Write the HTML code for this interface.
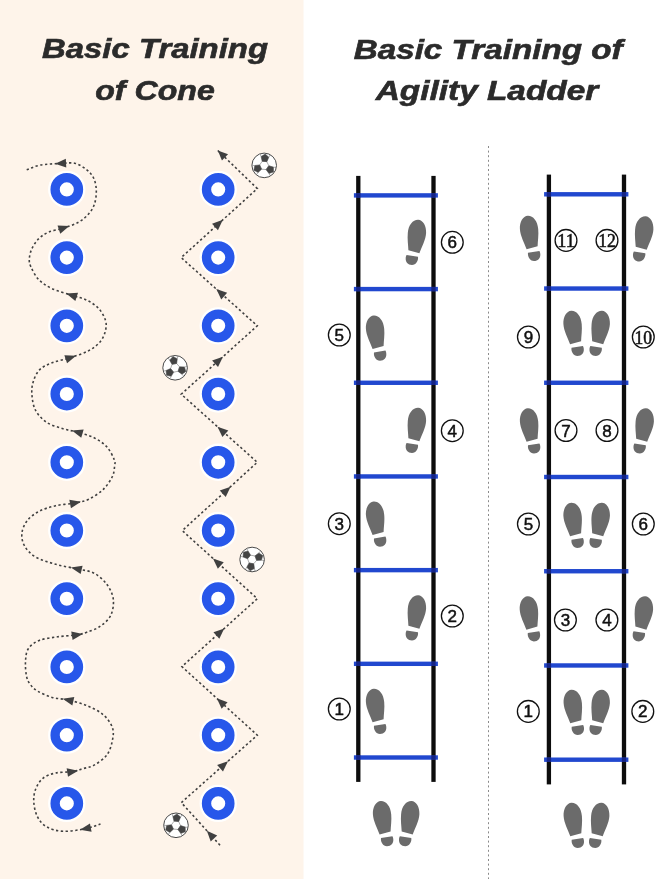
<!DOCTYPE html>
<html><head><meta charset="utf-8"><style>
html,body{margin:0;padding:0;background:#fff;width:656px;height:879px;overflow:hidden;}
svg{display:block;} svg{will-change:transform;}
</style></head><body>
<svg width="656" height="879" viewBox="0 0 656 879">
<defs><g id="foot" fill="#6b6b6b"><path d="M2.2,-22.2 C7,-22 10.5,-16 10.1,-9 C9.8,-2 5.5,5 3.4,11.3 L-7.6,8.2 C-7.8,3 -8.8,-3 -8.2,-9 C-7.6,-17 -3,-22.4 2.2,-22.2 Z"/><path d="M-9.4,12.9 L2,14.7 C2.6,18.5 0,23 -4,23 C-8.2,23 -10.6,19.8 -10.3,16 C-10.2,14.5 -9.8,13.5 -9.4,12.9 Z"/></g></defs>
<rect x="0" y="0" width="656" height="879" fill="#fff"/>
<rect x="0" y="0" width="303.5" height="879" fill="#fef4ea"/>
<text x="42.0" y="57.9" font-family="Liberation Sans" font-weight="bold" font-style="italic" font-size="27" fill="#2b2b2b" stroke="#2b2b2b" stroke-width="0.6" textLength="226.0" lengthAdjust="spacingAndGlyphs">Basic Training</text>
<text x="95.2" y="99.9" font-family="Liberation Sans" font-weight="bold" font-style="italic" font-size="27" fill="#2b2b2b" stroke="#2b2b2b" stroke-width="0.6" textLength="119.6" lengthAdjust="spacingAndGlyphs">of Cone</text>
<text x="353.7" y="58.5" font-family="Liberation Sans" font-weight="bold" font-style="italic" font-size="27" fill="#2b2b2b" stroke="#2b2b2b" stroke-width="0.6" textLength="268.9" lengthAdjust="spacingAndGlyphs">Basic Training of</text>
<text x="375.7" y="100.1" font-family="Liberation Sans" font-weight="bold" font-style="italic" font-size="27" fill="#2b2b2b" stroke="#2b2b2b" stroke-width="0.6" textLength="222.6" lengthAdjust="spacingAndGlyphs">Agility Ladder</text>
<circle cx="66.8" cy="189.4" r="18.7" fill="#fff" opacity="0.95"/>
<circle cx="66.8" cy="189.4" r="11.7" fill="#fff" stroke="#2757ea" stroke-width="9.3"/>
<circle cx="66.8" cy="257.62" r="18.7" fill="#fff" opacity="0.95"/>
<circle cx="66.8" cy="257.62" r="11.7" fill="#fff" stroke="#2757ea" stroke-width="9.3"/>
<circle cx="66.8" cy="325.84000000000003" r="18.7" fill="#fff" opacity="0.95"/>
<circle cx="66.8" cy="325.84000000000003" r="11.7" fill="#fff" stroke="#2757ea" stroke-width="9.3"/>
<circle cx="66.8" cy="394.06" r="18.7" fill="#fff" opacity="0.95"/>
<circle cx="66.8" cy="394.06" r="11.7" fill="#fff" stroke="#2757ea" stroke-width="9.3"/>
<circle cx="66.8" cy="462.28" r="18.7" fill="#fff" opacity="0.95"/>
<circle cx="66.8" cy="462.28" r="11.7" fill="#fff" stroke="#2757ea" stroke-width="9.3"/>
<circle cx="66.8" cy="530.5" r="18.7" fill="#fff" opacity="0.95"/>
<circle cx="66.8" cy="530.5" r="11.7" fill="#fff" stroke="#2757ea" stroke-width="9.3"/>
<circle cx="66.8" cy="598.72" r="18.7" fill="#fff" opacity="0.95"/>
<circle cx="66.8" cy="598.72" r="11.7" fill="#fff" stroke="#2757ea" stroke-width="9.3"/>
<circle cx="66.8" cy="666.9399999999999" r="18.7" fill="#fff" opacity="0.95"/>
<circle cx="66.8" cy="666.9399999999999" r="11.7" fill="#fff" stroke="#2757ea" stroke-width="9.3"/>
<circle cx="66.8" cy="735.16" r="18.7" fill="#fff" opacity="0.95"/>
<circle cx="66.8" cy="735.16" r="11.7" fill="#fff" stroke="#2757ea" stroke-width="9.3"/>
<circle cx="66.8" cy="803.38" r="18.7" fill="#fff" opacity="0.95"/>
<circle cx="66.8" cy="803.38" r="11.7" fill="#fff" stroke="#2757ea" stroke-width="9.3"/>
<circle cx="218.2" cy="189.4" r="18.7" fill="#fff" opacity="0.95"/>
<circle cx="218.2" cy="189.4" r="11.7" fill="#fff" stroke="#2757ea" stroke-width="9.3"/>
<circle cx="218.2" cy="257.62" r="18.7" fill="#fff" opacity="0.95"/>
<circle cx="218.2" cy="257.62" r="11.7" fill="#fff" stroke="#2757ea" stroke-width="9.3"/>
<circle cx="218.2" cy="325.84000000000003" r="18.7" fill="#fff" opacity="0.95"/>
<circle cx="218.2" cy="325.84000000000003" r="11.7" fill="#fff" stroke="#2757ea" stroke-width="9.3"/>
<circle cx="218.2" cy="394.06" r="18.7" fill="#fff" opacity="0.95"/>
<circle cx="218.2" cy="394.06" r="11.7" fill="#fff" stroke="#2757ea" stroke-width="9.3"/>
<circle cx="218.2" cy="462.28" r="18.7" fill="#fff" opacity="0.95"/>
<circle cx="218.2" cy="462.28" r="11.7" fill="#fff" stroke="#2757ea" stroke-width="9.3"/>
<circle cx="218.2" cy="530.5" r="18.7" fill="#fff" opacity="0.95"/>
<circle cx="218.2" cy="530.5" r="11.7" fill="#fff" stroke="#2757ea" stroke-width="9.3"/>
<circle cx="218.2" cy="598.72" r="18.7" fill="#fff" opacity="0.95"/>
<circle cx="218.2" cy="598.72" r="11.7" fill="#fff" stroke="#2757ea" stroke-width="9.3"/>
<circle cx="218.2" cy="666.9399999999999" r="18.7" fill="#fff" opacity="0.95"/>
<circle cx="218.2" cy="666.9399999999999" r="11.7" fill="#fff" stroke="#2757ea" stroke-width="9.3"/>
<circle cx="218.2" cy="735.16" r="18.7" fill="#fff" opacity="0.95"/>
<circle cx="218.2" cy="735.16" r="11.7" fill="#fff" stroke="#2757ea" stroke-width="9.3"/>
<circle cx="218.2" cy="803.38" r="18.7" fill="#fff" opacity="0.95"/>
<circle cx="218.2" cy="803.38" r="11.7" fill="#fff" stroke="#2757ea" stroke-width="9.3"/>
<path d="M26.70,169.80 C28.95,169.02 34.47,166.17 40.20,165.10 C45.93,164.03 55.23,163.68 61.10,163.40 C66.97,163.12 71.07,162.28 75.40,163.40 C79.73,164.52 84.03,167.58 87.10,170.10 C90.17,172.62 92.27,175.15 93.80,178.50 C95.33,181.85 96.17,186.00 96.30,190.20 C96.43,194.40 95.85,199.78 94.60,203.70 C93.35,207.62 91.45,210.63 88.80,213.70 C86.15,216.77 82.90,219.72 78.70,222.10 C74.50,224.48 68.63,226.32 63.60,228.00 C58.57,229.68 52.68,230.38 48.50,232.20 C44.32,234.02 41.28,236.12 38.50,238.90 C35.72,241.68 33.33,245.55 31.80,248.90 C30.27,252.25 29.45,256.02 29.30,259.00 C29.15,261.98 29.37,263.42 30.90,266.80 C32.43,270.18 35.00,275.67 38.50,279.30 C42.00,282.93 46.32,285.93 51.90,288.60 C57.48,291.27 66.13,293.35 72.00,295.30 C77.87,297.25 82.63,298.07 87.10,300.30 C91.57,302.53 95.73,305.35 98.80,308.70 C101.87,312.05 104.38,316.77 105.50,320.40 C106.62,324.03 106.33,327.00 105.50,330.50 C104.67,334.00 103.28,338.05 100.50,341.40 C97.72,344.75 93.82,347.88 88.80,350.60 C83.78,353.32 76.52,355.67 70.40,357.70 C64.28,359.73 57.28,360.73 52.10,362.80 C46.92,364.87 42.50,366.75 39.30,370.10 C36.10,373.45 34.12,378.63 32.90,382.90 C31.68,387.17 31.55,391.12 32.00,395.70 C32.45,400.28 33.17,405.97 35.60,410.40 C38.03,414.83 42.03,419.25 46.60,422.30 C51.17,425.35 57.82,427.03 63.00,428.70 C68.18,430.37 72.52,430.78 77.70,432.30 C82.88,433.82 89.22,435.35 94.10,437.80 C98.98,440.25 103.63,443.33 107.00,447.00 C110.37,450.67 113.03,456.63 114.30,459.80 C115.57,462.97 114.92,463.22 114.60,466.00 C114.28,468.78 114.28,472.62 112.40,476.50 C110.52,480.38 107.25,485.50 103.30,489.30 C99.35,493.10 93.42,497.02 88.70,499.30 C83.98,501.58 80.50,501.93 75.00,503.00 C69.50,504.07 61.65,504.33 55.70,505.70 C49.75,507.07 44.02,508.75 39.30,511.20 C34.58,513.65 30.30,516.73 27.40,520.40 C24.50,524.07 22.37,528.93 21.90,533.20 C21.43,537.47 22.32,542.03 24.60,546.00 C26.88,549.97 30.42,553.95 35.60,557.00 C40.78,560.05 48.83,562.33 55.70,564.30 C62.57,566.27 70.40,567.32 76.80,568.80 C83.20,570.28 89.07,570.57 94.10,573.20 C99.13,575.83 103.80,580.25 107.00,584.60 C110.20,588.95 112.70,594.12 113.30,599.30 C113.90,604.48 112.88,611.13 110.60,615.70 C108.32,620.27 103.57,623.95 99.60,626.70 C95.63,629.45 90.60,630.83 86.80,632.20 C83.00,633.57 81.67,634.13 76.80,634.90 C71.93,635.67 63.85,635.88 57.60,636.80 C51.35,637.72 44.18,638.42 39.30,640.40 C34.42,642.38 30.60,645.18 28.30,648.70 C26.00,652.22 25.80,656.93 25.50,661.50 C25.20,666.07 25.75,672.35 26.50,676.10 C27.25,679.85 28.18,681.52 30.00,684.00 C31.82,686.48 33.72,688.77 37.40,691.00 C41.08,693.23 46.92,695.88 52.10,697.40 C57.28,698.92 62.72,698.73 68.50,700.10 C74.28,701.47 81.00,703.15 86.80,705.60 C92.60,708.05 99.03,711.13 103.30,714.80 C107.57,718.47 110.88,723.33 112.40,727.60 C113.92,731.87 113.32,735.83 112.40,740.40 C111.48,744.97 109.95,750.88 106.90,755.00 C103.85,759.12 98.05,762.83 94.10,765.10 C90.15,767.37 86.85,767.52 83.20,768.60 C79.55,769.68 76.78,770.87 72.20,771.60 C67.62,772.33 60.58,771.88 55.70,773.00 C50.82,774.12 46.25,775.58 42.90,778.30 C39.55,781.02 37.12,785.33 35.60,789.30 C34.08,793.27 33.50,797.53 33.80,802.10 C34.10,806.67 35.27,812.58 37.40,816.70 C39.53,820.82 42.33,824.37 46.60,826.80 C50.87,829.23 56.45,831.00 63.00,831.30 C69.55,831.60 79.65,829.82 85.90,828.60 C92.15,827.38 98.07,824.77 100.50,824.00" fill="none" stroke="#404040" stroke-width="1.6" stroke-dasharray="2.3 2.5"/>
<path d="M55.06,163.69 L65.84,158.87 L66.25,167.46 Z" fill="#404040"/>
<path d="M69.34,226.08 L60.27,233.65 L57.54,225.49 Z" fill="#404040"/>
<path d="M66.26,293.39 L78.05,292.78 L75.34,300.94 Z" fill="#404040"/>
<path d="M76.14,355.79 L67.06,363.34 L64.35,355.18 Z" fill="#404040"/>
<path d="M71.89,430.60 L83.66,429.56 L81.24,437.82 Z" fill="#404040"/>
<path d="M80.94,501.85 L70.96,508.16 L69.32,499.72 Z" fill="#404040"/>
<path d="M70.91,567.43 L82.59,565.73 L80.65,574.11 Z" fill="#404040"/>
<path d="M82.78,633.96 L72.58,639.92 L71.24,631.42 Z" fill="#404040"/>
<path d="M62.61,698.71 L74.31,697.05 L72.33,705.42 Z" fill="#404040"/>
<path d="M78.17,770.64 L67.99,776.63 L66.63,768.14 Z" fill="#404040"/>
<path d="M79.96,829.76 L89.94,823.43 L91.58,831.87 Z" fill="#404040"/>
<path d="M217.8,150.5 L257.3,188.6 L181.2,257.6 L257.3,325.8 L181.2,394.2 L257.3,462.3 L182.3,530.6 L257.3,598.7 L181.9,666.6 L257.3,735.2 L181.3,802.6 L220.4,845.6" fill="none" stroke="#404040" stroke-width="1.6" stroke-dasharray="2.3 2.5"/>
<path d="M217.80,150.50 L228.05,154.28 L221.94,160.61 Z" fill="#404040"/>
<path d="M222.85,219.84 L217.95,230.22 L212.04,223.70 Z" fill="#404040"/>
<path d="M216.31,289.06 L227.14,292.86 L221.26,299.41 Z" fill="#404040"/>
<path d="M222.97,356.66 L218.03,367.02 L212.14,360.47 Z" fill="#404040"/>
<path d="M217.48,426.67 L228.31,430.46 L222.44,437.01 Z" fill="#404040"/>
<path d="M230.58,486.63 L225.71,497.02 L219.78,490.52 Z" fill="#404040"/>
<path d="M212.96,558.44 L223.76,562.31 L217.85,568.82 Z" fill="#404040"/>
<path d="M224.26,628.45 L219.33,638.82 L213.44,632.28 Z" fill="#404040"/>
<path d="M216.78,698.33 L227.58,702.21 L221.66,708.72 Z" fill="#404040"/>
<path d="M228.00,761.18 L222.99,771.51 L217.15,764.92 Z" fill="#404040"/>
<path d="M206.83,830.68 L217.22,835.56 L210.71,841.48 Z" fill="#404040"/>
<g transform="translate(264.2,165.4)">
<circle r="12.3" fill="#fff" stroke="#4a4a4a" stroke-width="1"/>
<path d="M1.94,4.17 L-2.64,3.77 L-4.58,-0.40 L-1.94,-4.17 L2.64,-3.77 L4.58,0.40 Z" fill="none" stroke="#777" stroke-width="0.6"/>
<path d="M4.65,0.31 L9.25,1.72 L9.34,6.54 L4.78,8.11 L1.88,4.26 Z" fill="#444" stroke="#444" stroke-width="0.5"/>
<line x1="9.25" y1="1.72" x2="11.80" y2="2.19" stroke="#777" stroke-width="0.6"/>
<line x1="9.34" y1="6.54" x2="9.83" y2="6.88" stroke="#777" stroke-width="0.6"/>
<line x1="4.78" y1="8.11" x2="6.10" y2="10.34" stroke="#777" stroke-width="0.6"/>
<path d="M-2.59,3.87 L-6.12,7.15 L-10.33,4.82 L-9.41,0.09 L-4.63,-0.50 Z" fill="#444" stroke="#444" stroke-width="0.5"/>
<line x1="-6.12" y1="7.15" x2="-7.80" y2="9.12" stroke="#777" stroke-width="0.6"/>
<line x1="-10.33" y1="4.82" x2="-10.88" y2="5.07" stroke="#777" stroke-width="0.6"/>
<line x1="-9.41" y1="0.09" x2="-12.00" y2="0.11" stroke="#777" stroke-width="0.6"/>
<path d="M-2.05,-4.18 L-3.14,-8.87 L0.99,-11.36 L4.63,-8.20 L2.75,-3.76 Z" fill="#444" stroke="#444" stroke-width="0.5"/>
<line x1="-3.14" y1="-8.87" x2="-4.00" y2="-11.31" stroke="#777" stroke-width="0.6"/>
<line x1="0.99" y1="-11.36" x2="1.05" y2="-11.95" stroke="#777" stroke-width="0.6"/>
<line x1="4.63" y1="-8.20" x2="5.90" y2="-10.45" stroke="#777" stroke-width="0.6"/>
</g>
<g transform="translate(175.1,367.8)">
<circle r="12.3" fill="#fff" stroke="#4a4a4a" stroke-width="1"/>
<path d="M3.02,3.47 L-1.50,4.35 L-4.52,0.88 L-3.02,-3.47 L1.50,-4.35 L4.52,-0.88 Z" fill="none" stroke="#777" stroke-width="0.6"/>
<path d="M4.55,-0.98 L9.37,-0.90 L10.78,3.71 L6.83,6.48 L2.98,3.58 Z" fill="#444" stroke="#444" stroke-width="0.5"/>
<line x1="9.37" y1="-0.90" x2="11.95" y2="-1.14" stroke="#777" stroke-width="0.6"/>
<line x1="10.78" y1="3.71" x2="11.35" y2="3.91" stroke="#777" stroke-width="0.6"/>
<line x1="6.83" y1="6.48" x2="8.71" y2="8.26" stroke="#777" stroke-width="0.6"/>
<path d="M-1.43,4.43 L-3.91,8.56 L-8.60,7.48 L-9.02,2.68 L-4.59,0.79 Z" fill="#444" stroke="#444" stroke-width="0.5"/>
<line x1="-3.91" y1="8.56" x2="-4.98" y2="10.92" stroke="#777" stroke-width="0.6"/>
<line x1="-8.60" y1="7.48" x2="-9.06" y2="7.87" stroke="#777" stroke-width="0.6"/>
<line x1="-9.02" y1="2.68" x2="-11.50" y2="3.41" stroke="#777" stroke-width="0.6"/>
<path d="M-3.13,-3.45 L-5.46,-7.67 L-2.18,-11.19 L2.19,-9.15 L1.61,-4.37 Z" fill="#444" stroke="#444" stroke-width="0.5"/>
<line x1="-5.46" y1="-7.67" x2="-6.96" y2="-9.77" stroke="#777" stroke-width="0.6"/>
<line x1="-2.18" y1="-11.19" x2="-2.29" y2="-11.78" stroke="#777" stroke-width="0.6"/>
<line x1="2.19" y1="-9.15" x2="2.80" y2="-11.67" stroke="#777" stroke-width="0.6"/>
</g>
<g transform="translate(252.1,559.5)">
<circle r="12.3" fill="#fff" stroke="#4a4a4a" stroke-width="1"/>
<path d="M4.53,0.80 L1.57,4.32 L-2.96,3.52 L-4.53,-0.80 L-1.57,-4.32 L2.96,-3.52 Z" fill="none" stroke="#777" stroke-width="0.6"/>
<path d="M2.92,-3.63 L6.72,-6.59 L10.71,-3.90 L9.38,0.73 L4.57,0.90 Z" fill="#444" stroke="#444" stroke-width="0.5"/>
<line x1="6.72" y1="-6.59" x2="8.56" y2="-8.41" stroke="#777" stroke-width="0.6"/>
<line x1="10.71" y1="-3.90" x2="11.28" y2="-4.10" stroke="#777" stroke-width="0.6"/>
<line x1="9.38" y1="0.73" x2="11.96" y2="0.94" stroke="#777" stroke-width="0.6"/>
<path d="M1.68,4.34 L2.35,9.11 L-1.98,11.23 L-5.33,7.76 L-3.07,3.50 Z" fill="#444" stroke="#444" stroke-width="0.5"/>
<line x1="2.35" y1="9.11" x2="3.00" y2="11.62" stroke="#777" stroke-width="0.6"/>
<line x1="-1.98" y1="11.23" x2="-2.08" y2="11.82" stroke="#777" stroke-width="0.6"/>
<line x1="-5.33" y1="7.76" x2="-6.79" y2="9.89" stroke="#777" stroke-width="0.6"/>
<path d="M-4.60,-0.71 L-9.07,-2.52 L-8.73,-7.33 L-4.06,-8.49 L-1.50,-4.41 Z" fill="#444" stroke="#444" stroke-width="0.5"/>
<line x1="-9.07" y1="-2.52" x2="-11.56" y2="-3.21" stroke="#777" stroke-width="0.6"/>
<line x1="-8.73" y1="-7.33" x2="-9.19" y2="-7.71" stroke="#777" stroke-width="0.6"/>
<line x1="-4.06" y1="-8.49" x2="-5.17" y2="-10.83" stroke="#777" stroke-width="0.6"/>
</g>
<g transform="translate(176,825.3)">
<circle r="12.3" fill="#fff" stroke="#4a4a4a" stroke-width="1"/>
<path d="M1.94,4.17 L-2.64,3.77 L-4.58,-0.40 L-1.94,-4.17 L2.64,-3.77 L4.58,0.40 Z" fill="none" stroke="#777" stroke-width="0.6"/>
<path d="M4.65,0.31 L9.25,1.72 L9.34,6.54 L4.78,8.11 L1.88,4.26 Z" fill="#444" stroke="#444" stroke-width="0.5"/>
<line x1="9.25" y1="1.72" x2="11.80" y2="2.19" stroke="#777" stroke-width="0.6"/>
<line x1="9.34" y1="6.54" x2="9.83" y2="6.88" stroke="#777" stroke-width="0.6"/>
<line x1="4.78" y1="8.11" x2="6.10" y2="10.34" stroke="#777" stroke-width="0.6"/>
<path d="M-2.59,3.87 L-6.12,7.15 L-10.33,4.82 L-9.41,0.09 L-4.63,-0.50 Z" fill="#444" stroke="#444" stroke-width="0.5"/>
<line x1="-6.12" y1="7.15" x2="-7.80" y2="9.12" stroke="#777" stroke-width="0.6"/>
<line x1="-10.33" y1="4.82" x2="-10.88" y2="5.07" stroke="#777" stroke-width="0.6"/>
<line x1="-9.41" y1="0.09" x2="-12.00" y2="0.11" stroke="#777" stroke-width="0.6"/>
<path d="M-2.05,-4.18 L-3.14,-8.87 L0.99,-11.36 L4.63,-8.20 L2.75,-3.76 Z" fill="#444" stroke="#444" stroke-width="0.5"/>
<line x1="-3.14" y1="-8.87" x2="-4.00" y2="-11.31" stroke="#777" stroke-width="0.6"/>
<line x1="0.99" y1="-11.36" x2="1.05" y2="-11.95" stroke="#777" stroke-width="0.6"/>
<line x1="4.63" y1="-8.20" x2="5.90" y2="-10.45" stroke="#777" stroke-width="0.6"/>
</g>
<line x1="488.5" y1="146" x2="488.5" y2="879" stroke="#8a8a8a" stroke-width="1" stroke-dasharray="2 2.6"/>
<rect x="356.15000000000003" y="175.9" width="4.3" height="606.0" fill="#0d0d0d"/>
<rect x="431.35" y="175.9" width="4.3" height="606.0" fill="#0d0d0d"/>
<rect x="353.9" y="193.20" width="84.00" height="4.4" fill="#2148cf"/>
<rect x="356.15000000000003" y="193.20" width="4.3" height="4.4" fill="#141c70" opacity="0.8"/>
<rect x="431.35" y="193.20" width="4.3" height="4.4" fill="#141c70" opacity="0.8"/>
<rect x="353.9" y="286.88" width="84.00" height="4.4" fill="#2148cf"/>
<rect x="356.15000000000003" y="286.88" width="4.3" height="4.4" fill="#141c70" opacity="0.8"/>
<rect x="431.35" y="286.88" width="4.3" height="4.4" fill="#141c70" opacity="0.8"/>
<rect x="353.9" y="380.57" width="84.00" height="4.4" fill="#2148cf"/>
<rect x="356.15000000000003" y="380.57" width="4.3" height="4.4" fill="#141c70" opacity="0.8"/>
<rect x="431.35" y="380.57" width="4.3" height="4.4" fill="#141c70" opacity="0.8"/>
<rect x="353.9" y="474.25" width="84.00" height="4.4" fill="#2148cf"/>
<rect x="356.15000000000003" y="474.25" width="4.3" height="4.4" fill="#141c70" opacity="0.8"/>
<rect x="431.35" y="474.25" width="4.3" height="4.4" fill="#141c70" opacity="0.8"/>
<rect x="353.9" y="567.93" width="84.00" height="4.4" fill="#2148cf"/>
<rect x="356.15000000000003" y="567.93" width="4.3" height="4.4" fill="#141c70" opacity="0.8"/>
<rect x="431.35" y="567.93" width="4.3" height="4.4" fill="#141c70" opacity="0.8"/>
<rect x="353.9" y="661.62" width="84.00" height="4.4" fill="#2148cf"/>
<rect x="356.15000000000003" y="661.62" width="4.3" height="4.4" fill="#141c70" opacity="0.8"/>
<rect x="431.35" y="661.62" width="4.3" height="4.4" fill="#141c70" opacity="0.8"/>
<rect x="353.9" y="755.30" width="84.00" height="4.4" fill="#2148cf"/>
<rect x="356.15000000000003" y="755.30" width="4.3" height="4.4" fill="#141c70" opacity="0.8"/>
<rect x="431.35" y="755.30" width="4.3" height="4.4" fill="#141c70" opacity="0.8"/>
<rect x="546.75" y="174.6" width="4.3" height="609.8" fill="#0d0d0d"/>
<rect x="621.85" y="174.6" width="4.3" height="609.8" fill="#0d0d0d"/>
<rect x="544.1" y="192.10" width="84.30" height="4.4" fill="#2148cf"/>
<rect x="546.75" y="192.10" width="4.3" height="4.4" fill="#141c70" opacity="0.8"/>
<rect x="621.85" y="192.10" width="4.3" height="4.4" fill="#141c70" opacity="0.8"/>
<rect x="544.1" y="286.33" width="84.30" height="4.4" fill="#2148cf"/>
<rect x="546.75" y="286.33" width="4.3" height="4.4" fill="#141c70" opacity="0.8"/>
<rect x="621.85" y="286.33" width="4.3" height="4.4" fill="#141c70" opacity="0.8"/>
<rect x="544.1" y="380.57" width="84.30" height="4.4" fill="#2148cf"/>
<rect x="546.75" y="380.57" width="4.3" height="4.4" fill="#141c70" opacity="0.8"/>
<rect x="621.85" y="380.57" width="4.3" height="4.4" fill="#141c70" opacity="0.8"/>
<rect x="544.1" y="474.80" width="84.30" height="4.4" fill="#2148cf"/>
<rect x="546.75" y="474.80" width="4.3" height="4.4" fill="#141c70" opacity="0.8"/>
<rect x="621.85" y="474.80" width="4.3" height="4.4" fill="#141c70" opacity="0.8"/>
<rect x="544.1" y="569.03" width="84.30" height="4.4" fill="#2148cf"/>
<rect x="546.75" y="569.03" width="4.3" height="4.4" fill="#141c70" opacity="0.8"/>
<rect x="621.85" y="569.03" width="4.3" height="4.4" fill="#141c70" opacity="0.8"/>
<rect x="544.1" y="663.27" width="84.30" height="4.4" fill="#2148cf"/>
<rect x="546.75" y="663.27" width="4.3" height="4.4" fill="#141c70" opacity="0.8"/>
<rect x="621.85" y="663.27" width="4.3" height="4.4" fill="#141c70" opacity="0.8"/>
<rect x="544.1" y="757.50" width="84.30" height="4.4" fill="#2148cf"/>
<rect x="546.75" y="757.50" width="4.3" height="4.4" fill="#141c70" opacity="0.8"/>
<rect x="621.85" y="757.50" width="4.3" height="4.4" fill="#141c70" opacity="0.8"/>
<use href="#foot" transform="translate(416,242) scale(1,1)"/>
<circle cx="452.3" cy="242.3" r="10.9" fill="none" stroke="#111" stroke-width="1.3"/>
<text x="452.3" y="248.3" font-family="Liberation Sans" font-size="17" fill="#111" stroke="#111" stroke-width="0.5" text-anchor="middle">6</text>
<use href="#foot" transform="translate(376,337.7) scale(-1,1)"/>
<circle cx="339.3" cy="335" r="10.9" fill="none" stroke="#111" stroke-width="1.3"/>
<text x="339.3" y="341" font-family="Liberation Sans" font-size="17" fill="#111" stroke="#111" stroke-width="0.5" text-anchor="middle">5</text>
<use href="#foot" transform="translate(416,430) scale(1,1)"/>
<circle cx="452.3" cy="430.7" r="10.9" fill="none" stroke="#111" stroke-width="1.3"/>
<text x="452.3" y="436.7" font-family="Liberation Sans" font-size="17" fill="#111" stroke="#111" stroke-width="0.5" text-anchor="middle">4</text>
<use href="#foot" transform="translate(376,523.7) scale(-1,1)"/>
<circle cx="339.3" cy="523.7" r="10.9" fill="none" stroke="#111" stroke-width="1.3"/>
<text x="339.3" y="529.7" font-family="Liberation Sans" font-size="17" fill="#111" stroke="#111" stroke-width="0.5" text-anchor="middle">3</text>
<use href="#foot" transform="translate(416,617.5) scale(1,1)"/>
<circle cx="452.3" cy="616" r="10.9" fill="none" stroke="#111" stroke-width="1.3"/>
<text x="452.3" y="622" font-family="Liberation Sans" font-size="17" fill="#111" stroke="#111" stroke-width="0.5" text-anchor="middle">2</text>
<use href="#foot" transform="translate(376,711) scale(-1,1)"/>
<circle cx="339.3" cy="709" r="10.9" fill="none" stroke="#111" stroke-width="1.3"/>
<text x="339.3" y="715" font-family="Liberation Sans" font-size="17" fill="#111" stroke="#111" stroke-width="0.5" text-anchor="middle">1</text>
<use href="#foot" transform="translate(383,823.3) scale(-1,1)"/>
<use href="#foot" transform="translate(409.3,823.3) scale(1,1)"/>
<use href="#foot" transform="translate(530,238) scale(-1,1)"/>
<use href="#foot" transform="translate(643.3,238.5) scale(1,1)"/>
<circle cx="566" cy="240.4" r="10.9" fill="none" stroke="#111" stroke-width="1.3"/>
<text x="557.20" y="247.00" font-family="Liberation Serif" font-size="18.5" fill="#111" stroke="#111" stroke-width="0.5" textLength="17.6" lengthAdjust="spacingAndGlyphs">11</text>
<circle cx="607" cy="240.4" r="10.9" fill="none" stroke="#111" stroke-width="1.3"/>
<text x="598.20" y="247.00" font-family="Liberation Serif" font-size="18.5" fill="#111" stroke="#111" stroke-width="0.5" textLength="17.6" lengthAdjust="spacingAndGlyphs">12</text>
<use href="#foot" transform="translate(573.5,333) scale(-1,1)"/>
<use href="#foot" transform="translate(599.8,333) scale(1,1)"/>
<circle cx="528.4" cy="337" r="10.9" fill="none" stroke="#111" stroke-width="1.3"/>
<text x="528.4" y="343" font-family="Liberation Sans" font-size="17" fill="#111" stroke="#111" stroke-width="0.5" text-anchor="middle">9</text>
<circle cx="643.3" cy="337" r="10.9" fill="none" stroke="#111" stroke-width="1.3"/>
<text x="634.50" y="343.60" font-family="Liberation Serif" font-size="18.5" fill="#111" stroke="#111" stroke-width="0.5" textLength="17.6" lengthAdjust="spacingAndGlyphs">10</text>
<use href="#foot" transform="translate(530,430.5) scale(-1,1)"/>
<use href="#foot" transform="translate(643.8,430.5) scale(1,1)"/>
<circle cx="566" cy="430.5" r="10.9" fill="none" stroke="#111" stroke-width="1.3"/>
<text x="566" y="436.5" font-family="Liberation Sans" font-size="17" fill="#111" stroke="#111" stroke-width="0.5" text-anchor="middle">7</text>
<circle cx="607" cy="430.5" r="10.9" fill="none" stroke="#111" stroke-width="1.3"/>
<text x="607" y="436.5" font-family="Liberation Sans" font-size="17" fill="#111" stroke="#111" stroke-width="0.5" text-anchor="middle">8</text>
<use href="#foot" transform="translate(573.5,525) scale(-1,1)"/>
<use href="#foot" transform="translate(599.8,525) scale(1,1)"/>
<circle cx="528.4" cy="524" r="10.9" fill="none" stroke="#111" stroke-width="1.3"/>
<text x="528.4" y="530" font-family="Liberation Sans" font-size="17" fill="#111" stroke="#111" stroke-width="0.5" text-anchor="middle">5</text>
<circle cx="643.3" cy="524" r="10.9" fill="none" stroke="#111" stroke-width="1.3"/>
<text x="643.3" y="530" font-family="Liberation Sans" font-size="17" fill="#111" stroke="#111" stroke-width="0.5" text-anchor="middle">6</text>
<use href="#foot" transform="translate(529.8,618.4) scale(-1,1)"/>
<use href="#foot" transform="translate(643,618.4) scale(1,1)"/>
<circle cx="565.4" cy="620" r="10.9" fill="none" stroke="#111" stroke-width="1.3"/>
<text x="565.4" y="626" font-family="Liberation Sans" font-size="17" fill="#111" stroke="#111" stroke-width="0.5" text-anchor="middle">3</text>
<circle cx="606.9" cy="620" r="10.9" fill="none" stroke="#111" stroke-width="1.3"/>
<text x="606.9" y="626" font-family="Liberation Sans" font-size="17" fill="#111" stroke="#111" stroke-width="0.5" text-anchor="middle">4</text>
<use href="#foot" transform="translate(573.7,712) scale(-1,1)"/>
<use href="#foot" transform="translate(599.8,712) scale(1,1)"/>
<circle cx="528.3" cy="711.4" r="10.9" fill="none" stroke="#111" stroke-width="1.3"/>
<text x="528.3" y="717.4" font-family="Liberation Sans" font-size="17" fill="#111" stroke="#111" stroke-width="0.5" text-anchor="middle">1</text>
<circle cx="642.8" cy="711.4" r="10.9" fill="none" stroke="#111" stroke-width="1.3"/>
<text x="642.8" y="717.4" font-family="Liberation Sans" font-size="17" fill="#111" stroke="#111" stroke-width="0.5" text-anchor="middle">2</text>
<use href="#foot" transform="translate(573.7,825) scale(-1,1)"/>
<use href="#foot" transform="translate(599.3,825) scale(1,1)"/>
</svg>
</body></html>
